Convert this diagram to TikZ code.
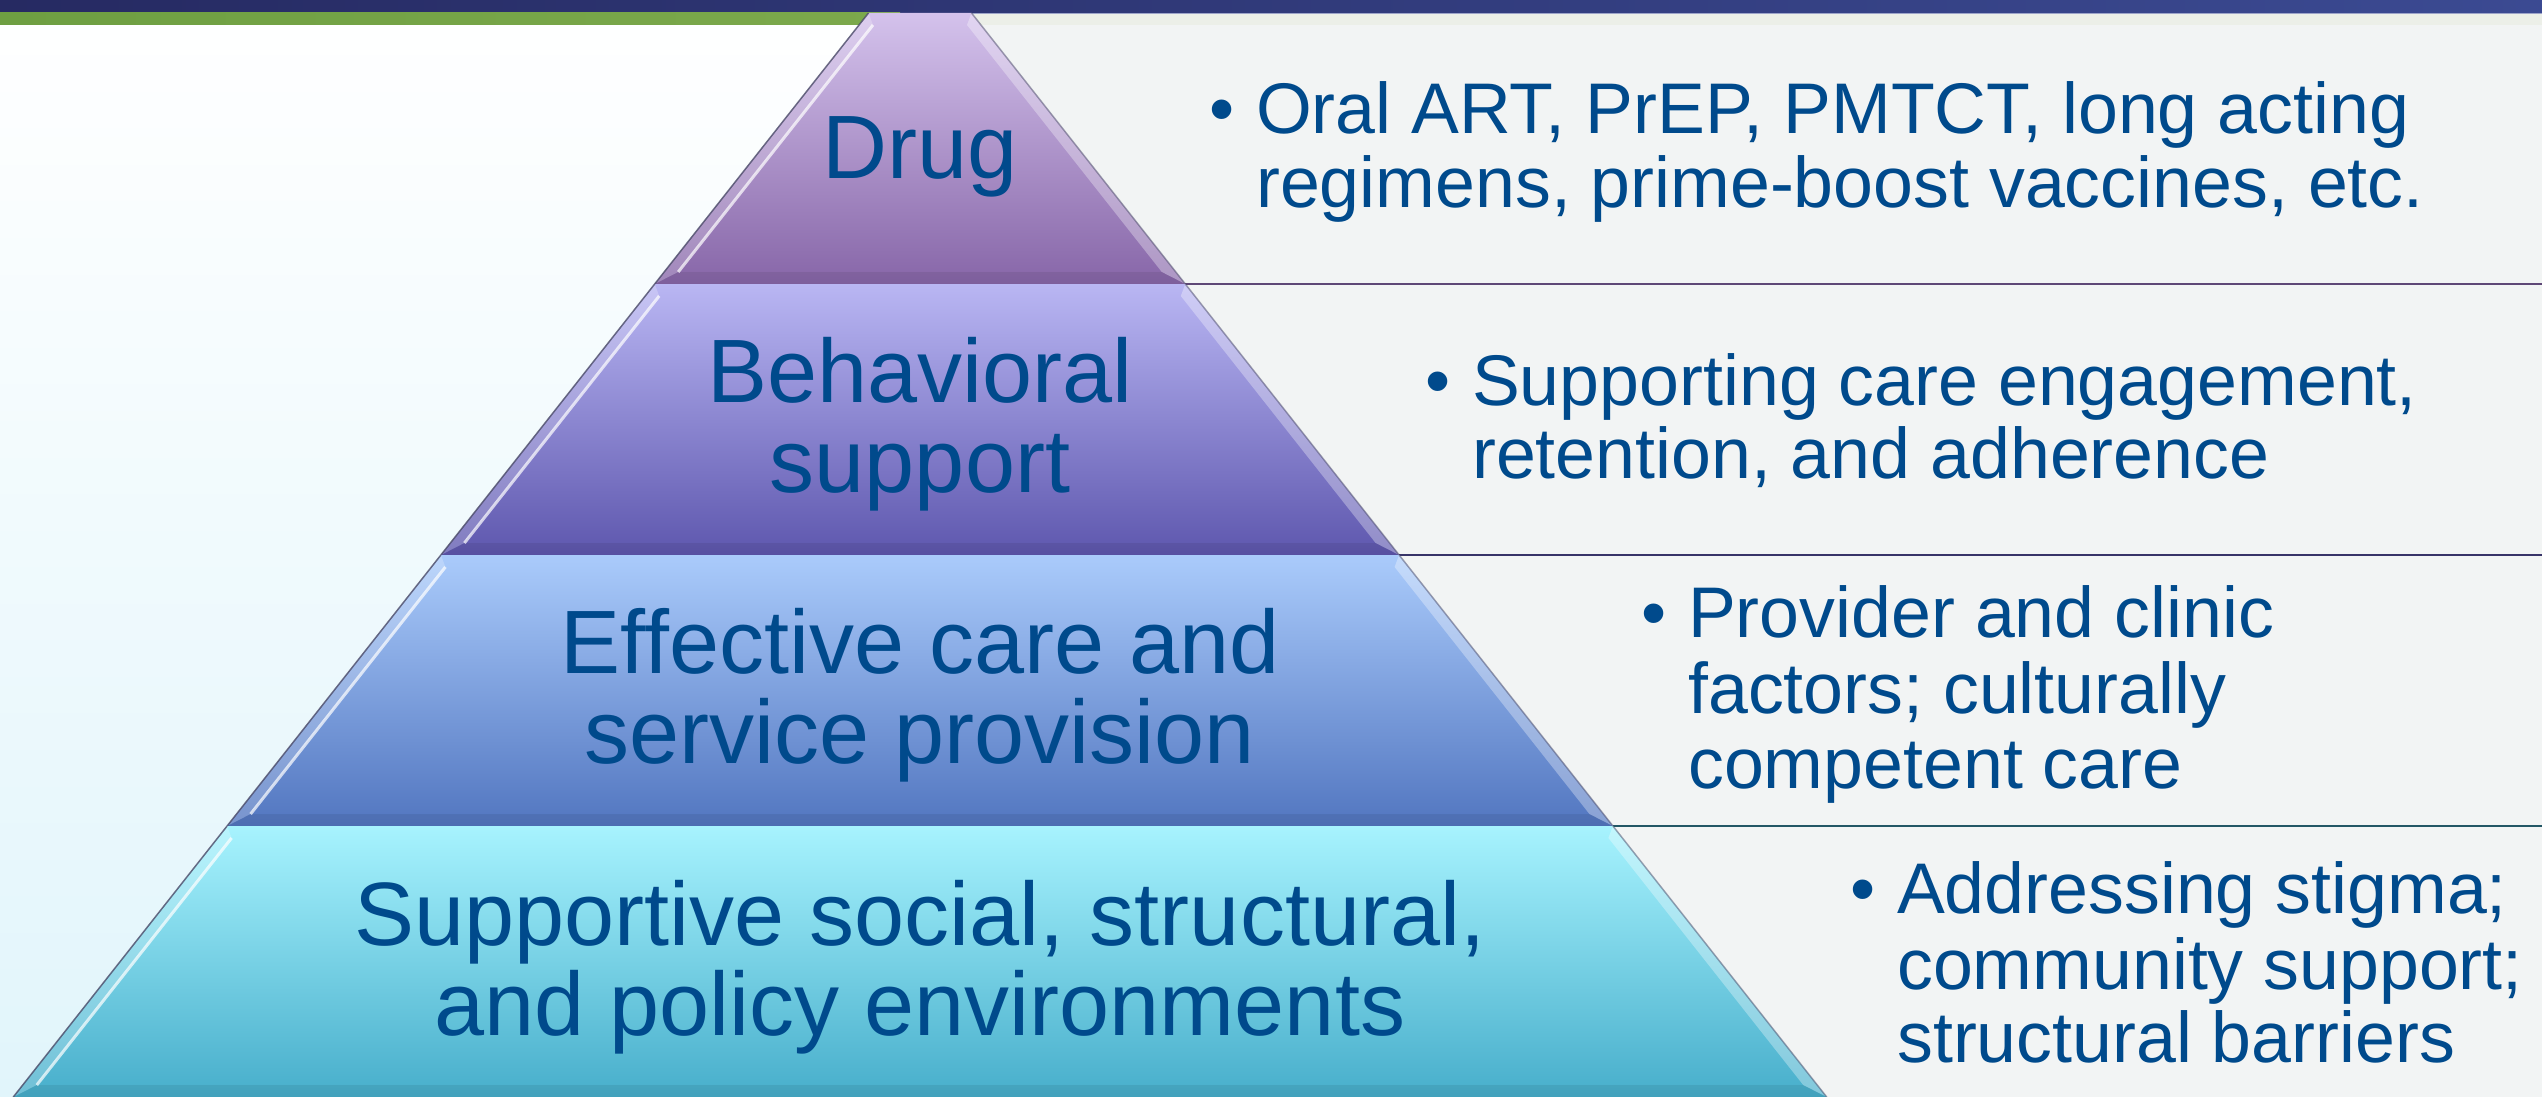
\documentclass[tikz,border=0pt]{standalone}
\usepackage{fontspec}
\setmainfont{Liberation Sans}
\definecolor{txtblue}{HTML}{004A8C}
\definecolor{bgcyan}{HTML}{E1F5FB}
\definecolor{navyL}{HTML}{262A62}
\definecolor{navyR}{HTML}{3B4A92}
\definecolor{greenL}{HTML}{6E9F42}
\definecolor{greenR}{HTML}{7CA94C}
\definecolor{panel}{HTML}{F2F4F4}
\definecolor{strip}{HTML}{ECEFE8}
\definecolor{drugT}{HTML}{D4C2EC}
\definecolor{drugB}{HTML}{8766A8}
\definecolor{behT}{HTML}{B9B6F3}
\definecolor{behB}{HTML}{5E57AE}
\definecolor{effT}{HTML}{AACBFB}
\definecolor{effB}{HTML}{5276C0}
\definecolor{supT}{HTML}{A7F3FE}
\definecolor{supB}{HTML}{47AECB}
\definecolor{edgecol}{HTML}{4A4A68}
\newcommand\pyrlevel[8]{%
  \shade[top color=#7,bottom color=#8] (#1,#5) -- (#2,#5) -- (#4,#6) -- (#3,#6) -- cycle;
  \pgfmathsetmacro\pyITLx{#1+4.5}\pgfmathsetmacro\pyIBLx{#3+23.5}%
  \pgfmathsetmacro\pyITRx{#2-4.5}\pgfmathsetmacro\pyIBRx{#4-23.5}%
  \pgfmathsetmacro\pyIT{#5+12}\pgfmathsetmacro\pyIB{#6-12}%
  \fill[white,opacity=0.22] (#1,#5) -- (#3,#6) -- (\pyIBLx,\pyIB) -- (\pyITLx,\pyIT) -- cycle;
  \fill[white,opacity=0.32] (#2,#5) -- (#4,#6) -- (\pyIBRx,\pyIB) -- (\pyITRx,\pyIT) -- cycle;
  \fill[black,opacity=0.07] (#3,#6) -- (#4,#6) -- (\pyIBRx,\pyIB) -- (\pyIBLx,\pyIB) -- cycle;
  \draw[white,opacity=0.7,line width=3pt] (\pyIBLx,\pyIB) -- (\pyITLx,\pyIT);
  \draw[edgecol,opacity=0.8,line width=1.5pt] (#3,#6) -- (#1,#5);
  \draw[edgecol,opacity=0.5,line width=1.5pt] (#2,#5) -- (#4,#6);
}
\begin{document}
\begin{tikzpicture}[x=1pt,y=-1pt,
  lbl/.style={font=\fontsize{90}{90}\selectfont, text=txtblue, anchor=base, inner sep=0pt},
  rtxt/.style={font=\fontsize{71.7}{75}\selectfont, text=txtblue, anchor=base west, inner sep=0pt},
  sepline/.style={line width=2.5pt}]
\useasboundingbox (0,0) rectangle (2542,1097);
% background
\shade[top color=white, bottom color=bgcyan] (0,0) rectangle (2542,1097);
% right panel area
\fill[panel] (971.5,13) -- (2542,13) -- (2542,1097) -- (1826.7,1097) -- cycle;
\fill[strip] (971.5,13) -- (2542,13) -- (2542,25) -- (981,25) -- cycle;
% header bars
\shade[left color=navyL, right color=navyR] (0,0) rectangle (2542,13);
\shade[left color=greenL, right color=greenR] (0,13) rectangle (900,25);
\draw[line width=1.5pt, color=navyR!50!white] (971.5,13.5) -- (2542,13.5);
% separators between panels
\draw[sepline, color=drugB!70!black] (1185.3,284) -- (2542,284);
\draw[sepline, color=behB!60!black] (1399.1,555) -- (2542,555);
\draw[sepline, color=supB!50!black] (1612.9,826) -- (2542,826);
% pyramid levels
\pyrlevel{868.5}{971.5}{654.7}{1185.3}{13}{284}{drugT}{drugB}
\pyrlevel{654.7}{1185.3}{440.9}{1399.1}{284}{555}{behT}{behB}
\pyrlevel{440.9}{1399.1}{227.1}{1612.9}{555}{826}{effT}{effB}
\pyrlevel{227.1}{1612.9}{13.3}{1826.7}{826}{1097}{supT}{supB}
% pyramid labels
\node[lbl] (drug) at (920,178) {Drug};
\node[lbl] (beh1) at (920,402) {Behavioral};
\node[lbl] (beh2) at (920,492) {support};
\node[lbl] (eff1) at (920,673) {Effective care and};
\node[lbl] (eff2) at (920,763) {service provision};
\node[lbl] (sup1) at (920,945) {Supportive social, structural,};
\node[lbl] (sup2) at (920,1035) {and policy environments};
% right texts
\node[rtxt] (r1a) at (1256,133) {\llap{•\hspace{22pt}}Oral ART, PrEP, PMTCT, long acting};
\node[rtxt] (r1b) at (1256,207) {regimens, prime-boost vaccines, etc.};
\node[rtxt] (r2a) at (1472,405) {\llap{•\hspace{22pt}}Supporting care engagement,};
\node[rtxt] (r2b) at (1472,478) {retention, and adherence};
\node[rtxt] (r3a) at (1688,637) {\llap{•\hspace{22pt}}Provider and clinic};
\node[rtxt] (r3b) at (1688,713) {factors; culturally};
\node[rtxt] (r3c) at (1688,788) {competent care};
\node[rtxt] (r4a) at (1897,913) {\llap{•\hspace{22pt}}Addressing stigma;};
\node[rtxt] (r4b) at (1897,989) {community support;};
\node[rtxt] (r4c) at (1897,1062) {structural barriers};
\end{tikzpicture}
\end{document}
